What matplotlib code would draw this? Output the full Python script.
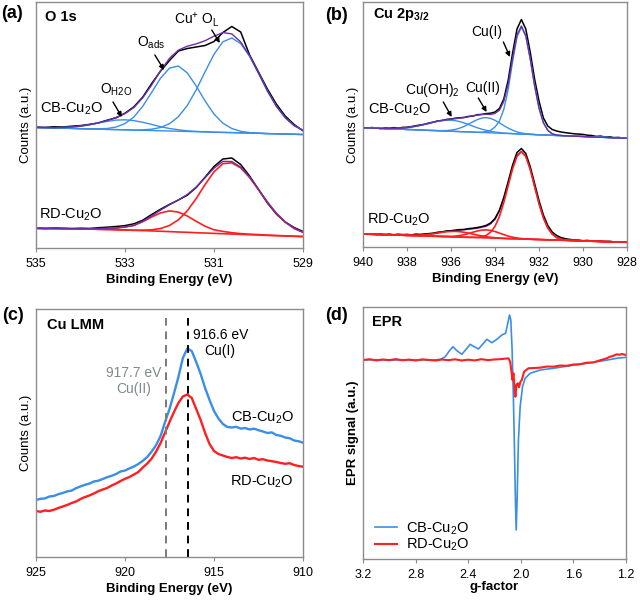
import numpy as np
import matplotlib
matplotlib.use('Agg')
import matplotlib.pyplot as plt

plt.rcParams['font.family'] = ['Liberation Sans', 'DejaVu Sans']
plt.rcParams['mathtext.fontset'] = 'custom'
plt.rcParams['mathtext.rm'] = 'Liberation Sans'
plt.rcParams['mathtext.it'] = 'Liberation Sans:italic'
plt.rcParams['mathtext.bf'] = 'Liberation Sans:bold'

# ---------------- (a) O 1s ----------------
E_a = [535.0, 534.8, 534.6, 534.4, 534.2, 534.0, 533.8, 533.6, 533.4, 533.2,
       533.0, 532.8, 532.6, 532.4, 532.2, 532.0, 531.8, 531.6, 531.4, 531.2,
       531.0, 530.8, 530.6, 530.4, 530.2, 530.0, 529.8, 529.6, 529.4, 529.2, 529.0]
cb_a_data = [121.0, 120.6, 121.2, 121.0, 121.8, 122.4, 123.6, 125.0, 127.8, 130.2,
             134.8, 141.2, 151.0, 164.5, 177.0, 187.5, 197.0, 199.5, 201.0, 202.5,
             206.5, 215.5, 221.5, 216.0, 193.0, 176.0, 159.0, 144.0, 132.0, 123.5, 117.2]
cb_a_base = [120.5, 120.3, 120.0, 119.8, 119.6, 119.3, 119.1, 118.9, 118.6, 118.4,
             118.2, 117.9, 117.7, 117.5, 117.2, 117.0, 116.8, 116.5, 116.3, 116.1,
             115.8, 115.6, 115.4, 115.1, 114.9, 114.7, 114.4, 114.2, 114.0, 113.7, 113.5]
cb_a_h2o = [0.0, 0.1, 0.3, 0.7, 1.4, 2.5, 4.1, 6.1, 8.0, 9.5,
            10.0, 9.5, 8.0, 6.1, 4.1, 2.5, 1.4, 0.7, 0.3, 0.1,
            0, 0, 0, 0, 0, 0, 0, 0, 0, 0, 0]
cb_a_ads = [0, 0, 0, 0, 0, 0, 0.1, 0.3, 0.9, 2.6,
            6.2, 13.1, 24.1, 38.2, 52.7, 62.9, 65.2, 58.6, 45.7, 30.9,
            18.1, 9.2, 4.1, 1.6, 0.5, 0.2, 0, 0, 0, 0, 0]
cb_a_lat = [0, 0, 0, 0, 0, 0, 0, 0, 0, 0,
            0, 0, 0.5, 1.3, 3.3, 7.3, 14.5, 26.0, 41.8, 60.2,
            77.9, 90.6, 94.6, 89.3, 76.8, 60.0, 42.7, 27.6, 16.3, 8.7, 4.2]
rd_a_data = [20.0, 19.4, 20.1, 19.7, 19.2, 19.8, 19.5, 20.3, 20.8, 21.5,
             22.4, 24.2, 27.8, 33.5, 38.8, 43.6, 48.0, 52.8, 60.5, 70.8,
             81.5, 89.0, 90.0, 83.5, 72.0, 58.5, 45.0, 34.0, 26.0, 20.5, 16.5]
rd_a_base = [19.6, 19.5, 19.4, 19.3, 19.2, 19.0, 18.9, 18.7, 18.5, 18.3,
             18.0, 17.7, 17.4, 17.1, 16.7, 16.4, 16.0, 15.7, 15.3, 15.0,
             14.6, 14.3, 14.0, 13.6, 13.3, 13.0, 12.6, 12.3, 12.0, 11.7, 11.4]
rd_a_ads = [0.1, 0.1, 0.2, 0.2, 0.3, 0.3, 0.4, 0.6, 1.0, 1.7,
            3.0, 4.9, 8.9, 13.9, 18.4, 20.7, 19.9, 16.3, 11.4, 6.8,
            3.6, 2.3, 1.3, 0.8, 0.5, 0.4, 0.3, 0.2, 0.2, 0.1, 0.1]
rd_a_lat = [0, 0, 0, 0, 0, 0, 0, 0, 0, 0,
            0, 0, 0.4, 1.1, 2.8, 6.1, 12.2, 21.5, 34.2, 48.5,
            61.6, 70.0, 71.2, 66.5, 57.2, 45.3, 33.1, 22.3, 13.8, 7.9, 4.2]

# ---------------- (b) Cu 2p3/2 ----------------
E_b = [940.0, 939.8, 939.6, 939.4, 939.2, 939.0, 938.8, 938.6, 938.4, 938.2,
       938.0, 937.8, 937.6, 937.4, 937.2, 937.0, 936.8, 936.6, 936.4, 936.2,
       936.0, 935.8, 935.6, 935.4, 935.2, 935.0, 934.8, 934.6, 934.4, 934.2,
       934.0, 933.8, 933.6, 933.4, 933.2, 933.0, 932.8, 932.6, 932.4, 932.2,
       932.0, 931.8, 931.6, 931.4, 931.2, 931.0, 930.8, 930.6, 930.4, 930.2,
       930.0, 929.8, 929.6, 929.4, 929.2, 929.0, 928.8, 928.6, 928.4, 928.2, 928.0]
cb_b_data = [119.6, 118.7, 119.5, 119.0, 118.4, 119.1, 118.8, 119.4, 118.9, 119.6,
             119.8, 120.4, 121.3, 122.0, 122.8, 124.0, 124.9, 126.1, 126.5, 127.6,
             128.0, 128.8, 129.2, 129.6, 130.6, 131.0, 132.3, 132.6, 133.4, 133.8,
             135.0, 138.5, 148.0, 167.0, 194.0, 218.0, 227.5, 218.0, 195.0, 168.0,
             146.0, 129.0, 121.0, 117.5, 116.0, 115.0, 114.3, 113.8, 113.2, 112.9,
             112.6, 111.8, 111.5, 110.6, 110.9, 110.0, 110.2, 109.4, 109.6, 109.0, 108.8]
cb_b_base = [119.3, 119.1, 119.0, 118.8, 118.6, 118.4, 118.2, 118.1, 117.9, 117.7,
             117.5, 117.4, 117.2, 117.0, 116.8, 116.6, 116.5, 116.3, 116.1, 115.9,
             115.8, 115.6, 115.4, 115.2, 115.1, 114.9, 114.7, 114.5, 114.4, 114.2,
             114.0, 113.8, 113.6, 113.5, 113.3, 113.1, 112.9, 112.8, 112.6, 112.4,
             112.2, 112.1, 111.9, 111.7, 111.5, 111.4, 111.2, 111.0, 110.8, 110.7,
             110.5, 110.3, 110.1, 109.9, 109.8, 109.6, 109.4, 109.2, 109.1, 108.9, 108.7]
cb_b_oh = [0, 0, 0, 0, 0, 0, 0.3, 0.5, 0.8, 1.2,
           1.8, 2.6, 3.5, 4.6, 5.8, 7.0, 8.3, 9.4, 10.3, 10.8,
           11.0, 10.7, 10.0, 8.8, 7.4, 5.9, 4.5, 3.3, 2.3, 1.5,
           0.9, 0.6, 0.3, 0.2, 0.1, 0, 0, 0, 0, 0,
           0, 0, 0, 0, 0, 0, 0, 0, 0, 0,
           0, 0, 0, 0, 0, 0, 0, 0, 0, 0, 0]
cb_b_cu2 = [0, 0, 0, 0, 0, 0, 0, 0, 0, 0,
            0, 0, 0, 0, 0, 0, 0, 0.1, 0.3, 0.5,
            1.1, 2.0, 3.5, 5.4, 7.8, 10.4, 12.7, 14.4, 15.0, 14.4,
            12.7, 10.4, 7.8, 5.4, 3.5, 2.0, 1.1, 0.5, 0.3, 0.1,
            0, 0, 0, 0, 0, 0, 0, 0, 0, 0,
            0, 0, 0, 0, 0, 0, 0, 0, 0, 0, 0]
cb_b_cu1 = [0, 0, 0, 0, 0, 0, 0, 0, 0, 0,
            0, 0, 0, 0, 0, 0, 0, 0, 0, 0,
            0, 0, 0, 0, 0, 0, 0, 0.3, 1.0, 2.5,
            6.0, 12.0, 24.0, 44.0, 72.1, 97.0, 107.0, 98.1, 75.6, 49.0,
            26.7, 12.2, 4.7, 1.5, 0.4, 0.1, 0, 0, 0, 0,
            0, 0, 0, 0, 0, 0, 0, 0, 0, 0, 0]
rd_b_data = [13.5, 12.6, 13.2, 12.4, 13.0, 12.5, 12.9, 12.3, 12.8, 12.4,
             12.6, 12.1, 12.9, 12.6, 13.1, 13.4, 13.9, 14.8, 15.2, 16.1,
             16.3, 16.9, 17.4, 17.6, 18.4, 18.8, 19.5, 20.4, 21.6, 24.0,
             28.5, 36.8, 49.5, 65.5, 82.0, 94.5, 98.5, 93.5, 80.5, 63.5,
             46.5, 32.0, 21.5, 15.0, 11.5, 9.4, 8.3, 7.6, 7.0, 6.9,
             6.3, 6.6, 6.0, 5.8, 5.9, 5.5, 5.6, 5.2, 5.3, 5.0, 4.9]
rd_b_base = [13.0, 12.9, 12.7, 12.6, 12.4, 12.3, 12.2, 12.0, 11.9, 11.8,
             11.6, 11.5, 11.3, 11.2, 11.1, 10.9, 10.8, 10.7, 10.5, 10.4,
             10.2, 10.1, 10.0, 9.8, 9.7, 9.6, 9.4, 9.3, 9.1, 9.0,
             8.9, 8.7, 8.6, 8.4, 8.3, 8.2, 8.0, 7.9, 7.8, 7.6,
             7.5, 7.3, 7.2, 7.1, 6.9, 6.8, 6.7, 6.5, 6.4, 6.2,
             6.1, 6.0, 5.8, 5.7, 5.5, 5.4, 5.3, 5.1, 5.0, 4.9, 4.7]
rd_b_oh = [0, 0, 0, 0, 0, 0, 0, 0, 0, 0,
           0.1, 0.2, 0.4, 0.7, 1.2, 1.8, 2.5, 3.3, 4.2, 4.9,
           5.3, 5.5, 5.3, 4.9, 4.2, 3.3, 2.5, 1.8, 1.2, 0.7,
           0.4, 0.2, 0.1, 0, 0, 0, 0, 0, 0, 0,
           0, 0, 0, 0, 0, 0, 0, 0, 0, 0,
           0, 0, 0, 0, 0, 0, 0, 0, 0, 0, 0]
rd_b_cu2 = [0, 0, 0, 0, 0, 0, 0, 0, 0, 0,
            0, 0, 0, 0, 0, 0, 0, 0, 0.1, 0.2,
            0.4, 0.8, 1.5, 2.5, 3.8, 5.2, 6.6, 7.6, 8.0, 7.6,
            6.6, 5.2, 3.8, 2.5, 1.5, 0.8, 0.4, 0.2, 0.1, 0,
            0, 0, 0, 0, 0, 0, 0, 0, 0, 0,
            0, 0, 0, 0, 0, 0, 0, 0, 0, 0, 0]
rd_b_cu1 = [0, 0, 0, 0, 0, 0, 0, 0, 0, 0,
            0, 0, 0, 0, 0, 0, 0, 0, 0, 0,
            0, 0, 0, 0, 0, 0.1, 0.3, 1.0, 2.5, 5.8,
            11.8, 21.8, 35.9, 53.0, 69.9, 82.6, 87.3, 82.6, 69.9, 53.0,
            35.9, 21.8, 11.8, 5.8, 2.5, 1.0, 0.3, 0.1, 0, 0,
            0, 0, 0, 0, 0, 0, 0, 0, 0, 0, 0]

# ---------------- (c) Cu LMM ----------------
E_c = [925.0, 924.75, 924.5, 924.25, 924.0, 923.75, 923.5, 923.25, 923.0, 922.75,
       922.5, 922.25, 922.0, 921.75, 921.5, 921.25, 921.0, 920.75, 920.5, 920.25,
       920.0, 919.75, 919.5, 919.25, 919.0, 918.75, 918.5, 918.25, 918.0, 917.75,
       917.5, 917.25, 917.0, 916.75, 916.5, 916.25, 916.0, 915.75, 915.5, 915.25,
       915.0, 914.75, 914.5, 914.25, 914.0, 913.75, 913.5, 913.25, 913.0, 912.75,
       912.5, 912.25, 912.0, 911.75, 911.5, 911.25, 911.0, 910.75, 910.5, 910.25, 910.0]
cb_c = [57.0, 58.2, 58.6, 60.5, 61.0, 62.8, 64.0, 65.6, 66.4, 68.8,
        70.6, 72.2, 73.4, 75.5, 76.3, 78.0, 79.8, 81.2, 83.0, 85.5,
        86.5, 88.6, 90.5, 93.0, 96.2, 100.0, 105.5, 112.0, 121.0, 135.0,
        148.0, 163.5, 180.0, 199.0, 208.5, 206.0, 195.0, 183.0, 169.0, 157.0,
        146.0, 138.5, 133.0, 130.0, 129.5, 130.2, 128.4, 129.0, 127.5, 128.3,
        126.8, 125.5, 124.0, 124.6, 122.0, 121.2, 119.5, 118.8, 116.5, 115.8, 114.3]
rd_c = [46.0, 45.2, 46.5, 46.0, 47.2, 49.0, 50.5, 52.0, 54.0, 55.5,
        58.0, 60.0, 61.5, 63.5, 65.8, 67.5, 69.0, 71.5, 73.5, 76.0,
        78.2, 80.0, 82.5, 85.0, 89.5, 93.5, 98.5, 105.5, 114.0, 124.5,
        135.0, 145.0, 154.0, 160.5, 162.5, 159.0, 148.0, 137.0, 124.0, 113.0,
        106.0, 103.0, 101.5, 100.0, 99.0, 99.8, 98.5, 99.3, 98.0, 99.0,
        97.2, 97.8, 96.5, 95.8, 95.0, 94.0, 93.2, 93.8, 92.0, 91.0, 90.3]
lmm_lines = [917.7, 916.45]
lmm_labels = ['917.7 eV\nCu(II)', '916.6 eV\nCu(I)']

# ---------------- (d) EPR ----------------
g_cb = [3.2, 3.1, 3.0, 2.9, 2.8, 2.7, 2.66, 2.61, 2.575, 2.542, 2.516,
        2.486, 2.448, 2.41, 2.385, 2.354, 2.322, 2.284, 2.258, 2.22, 2.182,
        2.144, 2.116, 2.099, 2.086, 2.076, 2.066, 2.056, 2.048, 2.041, 2.035,
        2.028, 2.018, 2.005, 1.987, 1.967, 1.929, 1.853, 1.752, 1.625, 1.499,
        1.372, 1.271, 1.2]
epr_cb = [199.0, 199.3, 198.8, 199.2, 199.0, 199.2, 199.0, 199.7, 202.3, 208.3, 212.3,
          208.3, 204.7, 210.7, 214.7, 212.3, 210.0, 215.7, 219.7, 216.3, 219.7,
          224.0, 225.7, 235.7, 244.0, 239.0, 209.0, 159.0, 109.0, 59.0, 29.0,
          59.0, 119.0, 152.3, 172.3, 180.7, 185.7, 189.0, 190.7, 193.3, 195.7,
          198.3, 200.7, 201.7]
g_rd = [3.2, 3.15, 3.1, 3.05, 3.0, 2.95, 2.9, 2.85, 2.8, 2.75,
        2.7, 2.65, 2.6, 2.55, 2.5, 2.45, 2.4, 2.35, 2.3, 2.25,
        2.2, 2.15, 2.12, 2.094, 2.081, 2.071, 2.063, 2.056, 2.048, 2.041,
        2.033, 2.023, 2.013, 2.003, 1.992, 1.975, 1.942, 1.9, 1.853, 1.8,
        1.752, 1.7, 1.65, 1.6, 1.55, 1.5, 1.45, 1.4, 1.35, 1.322,
        1.3, 1.271, 1.25, 1.233, 1.2]
epr_rd = [199.0, 199.8, 198.6, 199.5, 198.9, 199.9, 198.7, 199.4, 198.5, 199.6,
          199.1, 198.4, 199.5, 198.8, 199.7, 198.5, 199.3, 198.6, 199.8, 198.9,
          199.5, 199.9, 200.3, 200.7, 197.3, 187.3, 179.0, 185.7, 172.3, 162.3,
          174.0, 175.7, 171.7, 177.3, 179.0, 187.3, 190.7, 191.0, 191.3, 192.5,
          192.3, 193.5, 193.2, 194.5, 194.8, 196.3, 196.5, 198.6, 200.5, 202.3,
          203.0, 204.7, 204.2, 205.0, 204.0]

samples = ['CB-Cu$_2$O', 'RD-Cu$_2$O']

# ---------------- styling ----------------
BLUE = '#3a8ee6'
RED = '#ff1f1f'
PURPLE = '#6a2fa8'
SPINE = '#8c8c8c'
GREYTXT = '#7d8b8b'

fig = plt.figure(figsize=(6.4, 6.0), dpi=100)


def px_axes(l, t, r, b):
    return fig.add_axes([l / 640, 1 - b / 600, (r - l) / 640, (b - t) / 600])


def style(ax):
    for s in ax.spines.values():
        s.set_color(SPINE)
        s.set_linewidth(1.0)
    ax.tick_params(axis='x', direction='out', length=3, width=0.8, color=SPINE,
                   labelsize=9, pad=4)
    ax.set_yticks([])


arrow = dict(arrowstyle='-|>', color='black', lw=1.0, mutation_scale=7,
             shrinkA=0, shrinkB=0)

# (a)
axA = px_axes(36, 2, 303, 248)
style(axA)
E = np.array(E_a)
b = np.array(cb_a_base)
axA.plot(E, cb_a_data, color='black', lw=1.1)
axA.plot(E, b, color=BLUE, lw=1.0)
for comp in (cb_a_h2o, cb_a_ads, cb_a_lat):
    axA.plot(E, b + np.array(comp), color=BLUE, lw=1.0)
axA.plot(E, b + np.array(cb_a_h2o) + np.array(cb_a_ads) + np.array(cb_a_lat),
         color=PURPLE, lw=1.0)
b = np.array(rd_a_base)
axA.plot(E, rd_a_data, color='black', lw=1.1)
axA.plot(E, b, color=RED, lw=1.2)
for comp in (rd_a_ads, rd_a_lat):
    axA.plot(E, b + np.array(comp), color=RED, lw=1.2)
axA.plot(E, b + np.array(rd_a_ads) + np.array(rd_a_lat), color=PURPLE, lw=1.0)
axA.set_xlim(535, 529)
axA.set_ylim(0, 246)
axA.set_xticks([535, 533, 531, 529])
axA.set_xlabel('Binding Energy (eV)', fontsize=9.5, fontweight='bold', labelpad=3)
axA.set_ylabel('Counts (a.u.)', fontsize=9.5, labelpad=3)
axA.text(0.034, 0.94, 'O 1s', transform=axA.transAxes, fontsize=10.5,
         fontweight='bold', ha='left', va='center')
axA.text(534.21, 139, samples[0], fontsize=10.5, ha='center', va='center')
axA.text(534.21, 33, samples[1], fontsize=10.5, ha='center', va='center')
axA.text(533.2, 158, r'O$_{\mathrm{H2O}}$', fontsize=10, ha='center', va='center')
axA.text(532.42, 205, r'O$_{\mathrm{ads}}$', fontsize=10, ha='center', va='center')
axA.text(531.38, 228, r'Cu$^{+}$ O$_{\mathrm{L}}$', fontsize=10, ha='center', va='center')
axA.annotate('', xy=(533.07, 131), xytext=(533.27, 146), arrowprops=arrow)
axA.annotate('', xy=(532.12, 178), xytext=(532.33, 193), arrowprops=arrow)
axA.annotate('', xy=(530.87, 205), xytext=(531.05, 218), arrowprops=arrow)

# (b)
axB = px_axes(363, 2, 627, 247)
style(axB)
E = np.array(E_b)
b = np.array(cb_b_base)
axB.plot(E, cb_b_data, color='black', lw=1.1)
axB.plot(E, b, color=BLUE, lw=1.0)
for comp in (cb_b_oh, cb_b_cu2, cb_b_cu1):
    axB.plot(E, b + np.array(comp), color=BLUE, lw=1.0)
axB.plot(E, b + np.array(cb_b_oh) + np.array(cb_b_cu2) + np.array(cb_b_cu1),
         color=PURPLE, lw=1.0)
b = np.array(rd_b_base)
axB.plot(E, rd_b_data, color='black', lw=1.1)
axB.plot(E, b, color=RED, lw=1.2)
for comp in (rd_b_oh, rd_b_cu2, rd_b_cu1):
    axB.plot(E, b + np.array(comp), color=RED, lw=1.2)
axB.plot(E, b + np.array(rd_b_oh) + np.array(rd_b_cu2) + np.array(rd_b_cu1),
         color=PURPLE, lw=1.0, zorder=1.9)
axB.set_xlim(940, 928)
axB.set_ylim(0, 245)
axB.set_xticks([940, 938, 936, 934, 932, 930, 928])
axB.set_xlabel('Binding Energy (eV)', fontsize=9.5, fontweight='bold', labelpad=3)
axB.set_ylabel('Counts (a.u.)', fontsize=9.5, labelpad=3)
axB.text(0.038, 0.947, r'Cu 2p$_{\mathbf{3/2}}$', transform=axB.transAxes,
         fontsize=10.5, fontweight='bold', ha='left', va='center')
axB.text(938.36, 137, samples[0], fontsize=10.5, ha='center', va='center')
axB.text(938.36, 27, samples[1], fontsize=10.5, ha='center', va='center')
axB.text(934.36, 215, 'Cu(I)', fontsize=10, ha='center', va='center')
axB.text(936.86, 157, 'Cu(OH)$_2$', fontsize=10, ha='center', va='center')
axB.text(934.55, 159, 'Cu(II)', fontsize=10, ha='center', va='center')
axB.annotate('', xy=(933.32, 190), xytext=(933.62, 205), arrowprops=arrow)
axB.annotate('', xy=(935.97, 130), xytext=(936.35, 145), arrowprops=arrow)
axB.annotate('', xy=(934.38, 135), xytext=(934.76, 149), arrowprops=arrow)

# (c)
axC = px_axes(36, 309, 303, 557)
style(axC)
axC.plot(E_c, cb_c, color=BLUE, lw=1.7)
axC.plot(E_c, rd_c, color=RED, lw=1.7)
axC.axvline(lmm_lines[0], ymax=0.965, color='#7a7a7a', lw=1.4, ls=(0, (4, 3)))
axC.axvline(lmm_lines[1], ymax=0.965, color='black', lw=1.4, ls=(0, (4, 3)))
axC.set_xlim(925, 910)
axC.set_ylim(0, 248)
axC.set_xticks([925, 920, 915, 910])
axC.set_xlabel('Binding Energy (eV)', fontsize=9.5, fontweight='bold', labelpad=3)
axC.set_ylabel('Counts (a.u.)', fontsize=9.5, labelpad=3)
axC.text(0.041, 0.935, 'Cu LMM', transform=axC.transAxes, fontsize=10.5,
         fontweight='bold', ha='left', va='center')
axC.text(919.5, 176, lmm_labels[0], fontsize=10, ha='center', va='center',
         color=GREYTXT, linespacing=1.15)
axC.text(914.65, 214, lmm_labels[1], fontsize=10, ha='center', va='center',
         color='black', linespacing=1.15)
axC.text(912.3, 139, samples[0], fontsize=10.5, ha='center', va='center')
axC.text(912.3, 75, samples[1], fontsize=10.5, ha='center', va='center')

# (d)
axD = px_axes(363, 307, 626, 559)
style(axD)
axD.plot(g_cb, epr_cb, color=BLUE, lw=1.2, label=samples[0])
axD.plot(g_rd, epr_rd, color=RED, lw=1.5, label=samples[1])
axD.set_xlim(3.2, 1.2)
axD.set_ylim(0, 252)
axD.set_xticks([3.2, 2.8, 2.4, 2.0, 1.6, 1.2])
axD.set_xticklabels(['3.2', '2.8', '2.4', '2.0', '1.6', '1.2'])
axD.set_xlabel('g-factor', fontsize=9.5, fontweight='bold', labelpad=0)
axD.set_ylabel('EPR signal (a.u.)', fontsize=9.5, fontweight='bold', labelpad=3)
axD.text(0.033, 0.94, 'EPR', transform=axD.transAxes, fontsize=10.5,
         fontweight='bold', ha='left', va='center')
axD.legend(loc='lower left', bbox_to_anchor=(0.023, 0.0), frameon=False,
           fontsize=10.5, handlelength=1.55, handletextpad=0.6,
           labelspacing=0.0, borderaxespad=0.0)

# panel letters
for lab, x, y in [('(a)', 1, 13), ('(b)', 325, 15), ('(c)', 2, 316), ('(d)', 325, 315)]:
    fig.text(x / 640, 1 - y / 600, lab, fontsize=13, fontweight='bold',
             ha='left', va='center')

fig.savefig('out.png', dpi=100)
